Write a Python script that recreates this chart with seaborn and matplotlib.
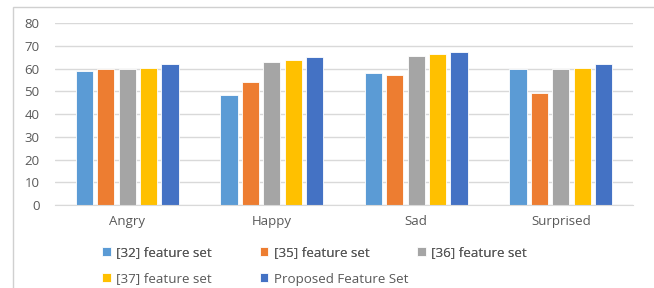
import matplotlib
matplotlib.use("Agg")
import matplotlib.pyplot as plt
import seaborn as sns
import pandas as pd
from matplotlib.patches import Rectangle

### Data ###
emotions = ["Angry", "Happy", "Sad", "Surprised"]
series_names = ["[32] feature set", "[35] feature set", "[36] feature set",
                "[37] feature set", "Proposed Feature Set"]
set_32 = [58.8, 48.2, 58.1, 60.0]
set_35 = [60.0, 54.1, 57.0, 49.3]
set_36 = [60.0, 62.9, 65.7, 60.0]
set_37 = [60.4, 63.8, 66.2, 60.4]
proposed = [61.8, 65.2, 67.3, 61.8]
colors = ["#5B9BD5", "#ED7D31", "#A5A5A5", "#FFC000", "#4472C4"]

rows = []
for name, vals in zip(series_names, [set_32, set_35, set_36, set_37, proposed]):
    for emo, v in zip(emotions, vals):
        rows.append({"emotion": emo, "series": name, "value": v})
df = pd.DataFrame(rows)

sns.set_style("white")
plt.rcParams["font.family"] = ["Open Sans", "DejaVu Sans"]

fig = plt.figure(figsize=(6.54, 2.88), dpi=100)
ax = fig.add_axes([0.084, 0.288, 0.884, 0.632])

sns.barplot(data=df, x="emotion", y="value", hue="series", palette=colors,
            saturation=1, width=0.74, gap=0.2, edgecolor="white", linewidth=0.6,
            ax=ax, legend=True)

ax.set_ylim(0, 80)
ax.set_yticks(range(0, 81, 10))
ax.yaxis.grid(True, color="#D9D9D9", linewidth=1)
ax.set_axisbelow(True)
for s in ["top", "right", "left"]:
    ax.spines[s].set_visible(False)
ax.spines["bottom"].set_color("#D9D9D9")
ax.tick_params(axis="both", length=0, labelsize=9.5, colors="#595959")
ax.tick_params(axis="x", pad=7)
ax.tick_params(axis="y", pad=11)
ax.set_xlabel("")
ax.set_ylabel("")

# legend below: two rows drawn as two legends so the columns line up
handles, labels = ax.get_legend_handles_labels()
ax.get_legend().remove()
leg_kw = dict(loc="center left", frameon=False, fontsize=9.6, labelcolor="#595959",
              handlelength=0.65, handleheight=0.65, handletextpad=0.4,
              columnspacing=3.6, borderpad=0)
leg1 = fig.legend(handles[:3], labels[:3], ncol=3,
                  bbox_to_anchor=(0.1456, 1 - 253 / 288), **leg_kw)
fig.legend(handles[3:], labels[3:], ncol=2,
           bbox_to_anchor=(0.1456, 1 - 279 / 288), **leg_kw)
fig.add_artist(leg1)

# faint frame like the spreadsheet cell border
fig.patches.append(Rectangle((0.02, -0.1), 1.2, 1.075, transform=fig.transFigure,
                             fill=False, edgecolor="#D0D0D0", linewidth=1))

fig.savefig("out.png", dpi=100)
